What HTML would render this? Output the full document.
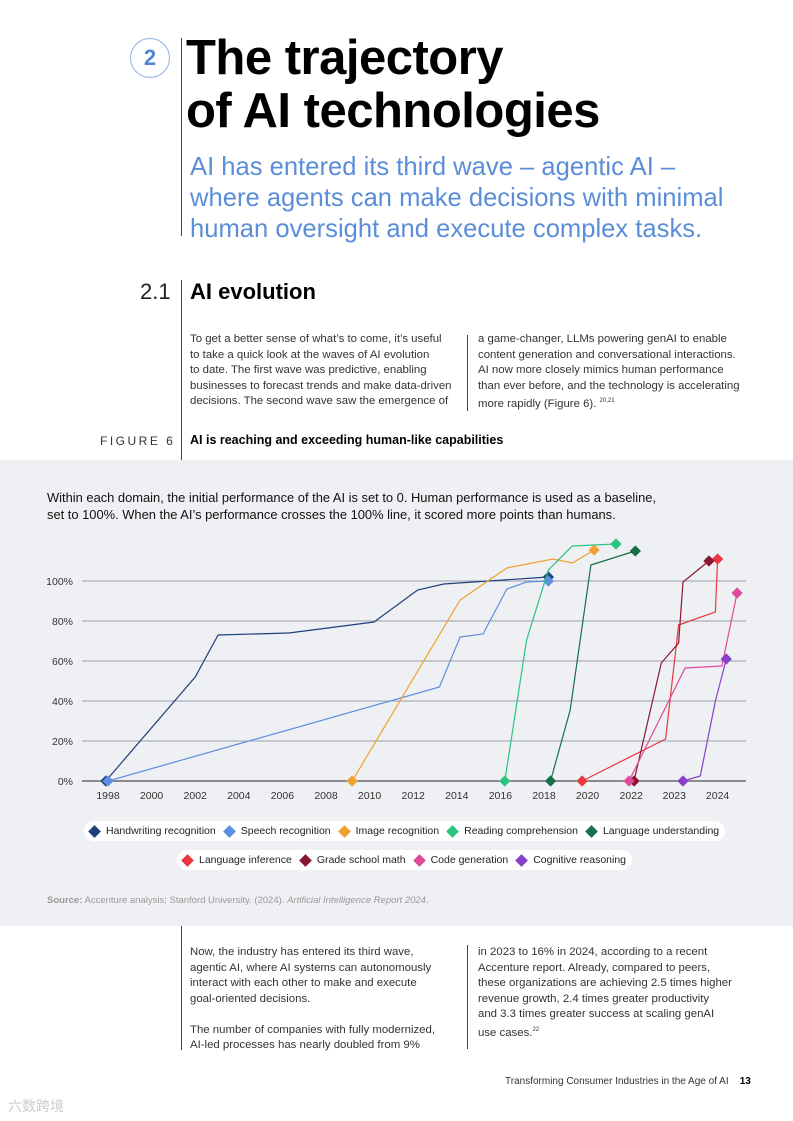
<!DOCTYPE html>
<html><head><meta charset="utf-8"><style>
*{margin:0;padding:0;box-sizing:border-box}
body{width:793px;height:1121px;background:#fff;position:relative;overflow:hidden;font-family:"Liberation Sans",Arial,sans-serif;color:#222}
.a{position:absolute}
.body{font-size:11.4px;line-height:15.5px;color:#333;white-space:nowrap}
.vl{position:absolute;width:1px;background:#444}
.leg{position:absolute;background:#fff;border-radius:10px;height:20px;display:flex;align-items:center;font-size:10.5px;color:#222;white-space:nowrap;padding:0 6px}
.leg span{display:inline-flex;align-items:center;margin-right:9px}
.leg span:last-child{margin-right:0}
.d{display:inline-block;width:9px;height:9px;transform:rotate(45deg);margin-right:7px}
</style></head><body>
<div class="a" style="left:130px;top:38px;width:40px;height:40px;border:1px solid #8fb0e0;border-radius:50%;color:#4f86d6;font-weight:bold;font-size:22px;text-align:center;line-height:38px">2</div>
<div class="vl" style="left:181px;top:38px;height:198px"></div>
<div class="a" style="left:186px;top:32px;font-size:49px;font-weight:bold;line-height:53px;color:#000;letter-spacing:-0.5px">The trajectory<br>of AI technologies</div>
<div class="a" style="left:190px;top:152px;font-size:25.6px;line-height:31px;color:#5b8ed8;white-space:nowrap">AI has entered its third wave – agentic AI –<br>where agents can make decisions with minimal<br>human oversight and execute complex tasks.</div>
<div class="a" style="left:140px;top:279px;font-size:22px;color:#222">2.1</div>
<div class="vl" style="left:181px;top:280px;height:180px"></div>
<div class="a" style="left:190px;top:279px;font-size:22px;font-weight:bold;color:#000">AI evolution</div>
<div class="a body" style="left:190px;top:332px">To get a better sense of what’s to come, it’s useful<br>to take a quick look at the waves of AI evolution<br>to date. The first wave was predictive, enabling<br>businesses to forecast trends and make data-driven<br>decisions. The second wave saw the emergence of</div>
<div class="vl" style="left:467px;top:335px;height:76px"></div>
<div class="a body" style="left:478px;top:332px">a game-changer, LLMs powering genAI to enable<br>content generation and conversational interactions.<br>AI now more closely mimics human performance<br>than ever before, and the technology is accelerating<br>more rapidly (Figure 6). <sup style="font-size:6px">20,21</sup></div>
<div class="a" style="left:100px;top:434px;font-size:12px;letter-spacing:2.5px;color:#333">FIGURE 6</div>
<div class="a" style="left:190px;top:433px;font-size:12.5px;font-weight:bold;color:#000">AI is reaching and exceeding human-like capabilities</div>
<div class="a" style="left:0;top:460px;width:793px;height:466px;background:#eef0f3"></div>
<div class="a" style="left:47px;top:490px;font-size:12.9px;line-height:16.5px;color:#111;white-space:nowrap">Within each domain, the initial performance of the AI is set to 0. Human performance is used as a baseline,<br>set to 100%. When the AI’s performance crosses the 100% line, it scored more points than humans.</div>
<svg class="a" style="left:0;top:530px" width="793" height="280" id="chart"></svg>
<div class="leg" style="left:84px;top:821px">
<span><i class="d" style="background:#1f3f7a"></i>Handwriting recognition</span>
<span><i class="d" style="background:#5b8fe0"></i>Speech recognition</span>
<span><i class="d" style="background:#f0a030"></i>Image recognition</span>
<span><i class="d" style="background:#2bc47f"></i>Reading comprehension</span>
<span><i class="d" style="background:#16704a"></i>Language understanding</span>
</div>
<div class="leg" style="left:177px;top:850px">
<span><i class="d" style="background:#e8373e"></i>Language inference</span>
<span><i class="d" style="background:#8a1530"></i>Grade school math</span>
<span><i class="d" style="background:#e04a9a"></i>Code generation</span>
<span><i class="d" style="background:#8a40c8"></i>Cognitive reasoning</span>
</div>
<div class="a" style="left:47px;top:895px;font-size:9.5px;color:#999;white-space:nowrap"><b>Source:</b> Accenture analysis; Stanford University. (2024). <i>Artificial Intelligence Report 2024</i>.</div>
<div class="vl" style="left:181px;top:926px;height:124px"></div>
<div class="a body" style="left:190px;top:945px">Now, the industry has entered its third wave,<br>agentic AI, where AI systems can autonomously<br>interact with each other to make and execute<br>goal-oriented decisions.<br><br>The number of companies with fully modernized,<br>AI-led processes has nearly doubled from 9%</div>
<div class="vl" style="left:467px;top:945px;height:104px"></div>
<div class="a body" style="left:478px;top:945px">in 2023 to 16% in 2024, according to a recent<br>Accenture report. Already, compared to peers,<br>these organizations are achieving 2.5 times higher<br>revenue growth, 2.4 times greater productivity<br>and 3.3 times greater success at scaling genAI<br>use cases.<sup style="font-size:6px">22</sup></div>
<div class="a" style="left:505px;top:1076px;font-size:10px;color:#333;white-space:nowrap">Transforming Consumer Industries in the Age of AI &nbsp;&nbsp; <b style="color:#000">13</b></div>
<div class="a" style="left:8px;top:1096px;font-size:14px;color:#ccc;font-family:'Liberation Sans','Noto Sans CJK SC',sans-serif">六数跨境</div>
<script>
const tickYears=[1998,2000,2002,2004,2006,2008,2010,2012,2014,2016,2018,2020,2022,2023,2024];
const yTicks=[0,20,40,60,80,100];
const seriesNames=["Handwriting recognition","Speech recognition","Image recognition","Reading comprehension","Language understanding","Language inference","Grade school math","Code generation","Cognitive reasoning"];
const seriesColors=["#1f3f7a","#5b8fe0","#f0a030","#2bc47f","#16704a","#e8373e","#8a1530","#e04a9a","#8a40c8"];
const handwritingYears=[1997.9,2002,2003.05,2006.3,2010.2,2012.2,2013.4,2018.2];
const handwritingValues=[0,52,73,74,79.5,95.5,98.5,102];
const speechYears=[1998,2013.2,2014.15,2015.2,2016.3,2017.2,2018.2];
const speechValues=[0,47,72,73.5,96,99.5,100];
const imageYears=[2009.2,2014.15,2016.3,2018.4,2019.3,2020.3];
const imageValues=[0,90.5,106.5,111,109,115.5];
const readingYears=[2016.2,2017.2,2018.2,2019.3,2021.3];
const readingValues=[0,70.5,105.5,117.5,118.5];
const understandingYears=[2018.3,2019.2,2020.15,2022.1];
const understandingValues=[0,35.5,108,115];
const inferenceYears=[2019.75,2022.8,2023.1,2023.95,2024.0];
const inferenceValues=[0,21,78,84.5,111];
const mathYears=[2022.07,2022.7,2023.1,2023.2,2023.8];
const mathValues=[0,59,69,99.5,110];
const codeYears=[2021.9,2023.25,2024.1,2024.45];
const codeValues=[0,56.5,57.5,94];
const cognitiveYears=[2023.2,2023.6,2023.95,2024.2];
const cognitiveValues=[0,2.5,40,61];
const allYears=[handwritingYears,speechYears,imageYears,readingYears,understandingYears,inferenceYears,mathYears,codeYears,cognitiveYears];
const allValues=[handwritingValues,speechValues,imageValues,readingValues,understandingValues,inferenceValues,mathValues,codeValues,cognitiveValues];

function x(yr){ return yr<=2022 ? 108+(yr-1998)*21.8 : 631+(yr-2022)*43.3; }
function y(v){ return 251-v*2; }
const NS="http://www.w3.org/2000/svg";
const svg=document.getElementById('chart');
function mk(t,a){const e=document.createElementNS(NS,t);for(const k in a)e.setAttribute(k,a[k]);svg.appendChild(e);return e;}
yTicks.forEach(v=>{
  const l=mk('line',{x1:82,x2:746,y1:y(v),y2:y(v),stroke:v===0?'#222':'#9aa0a8','stroke-width':1});
  
  
  const t=mk('text',{x:73,y:y(v)+4,'text-anchor':'end','font-size':10.5,fill:'#333','font-family':'Liberation Sans'});
  t.textContent=v+'%';
  
  
});
tickYears.forEach(yr=>{
  const t=mk('text',{x:x(yr),y:269,'text-anchor':'middle','font-size':10.5,fill:'#333','font-family':'Liberation Sans'});
  t.textContent=yr;
  
  
});
allYears.forEach((ys,i)=>{
  const vs=allValues[i];
  const pts=ys.map((yr,j)=>x(yr).toFixed(1)+','+y(vs[j]).toFixed(1)).join(' ');
  const p=mk('polyline',{points:pts,fill:'none',stroke:seriesColors[i],'stroke-width':1.2});
  
  
  [0,ys.length-1].forEach(j=>{
    const cx=x(ys[j]),cy=y(vs[j]);
    const d=mk('rect',{x:cx-4,y:cy-4,width:8,height:8,fill:seriesColors[i],transform:`rotate(45 ${cx} ${cy})`});
    
    
  });
});
</script>
</body></html>
